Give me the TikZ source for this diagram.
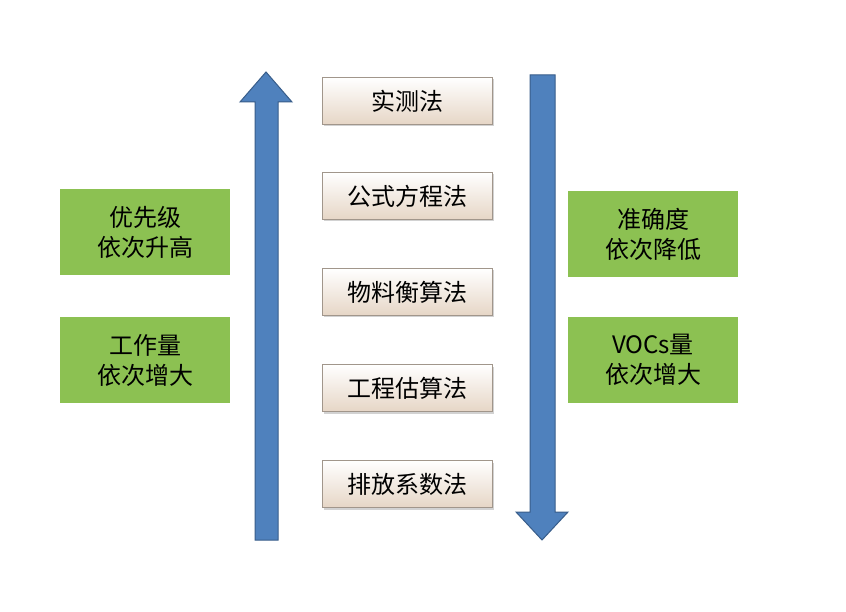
\documentclass[tikz,border=0pt]{standalone}
\usepackage{fontspec}
\newfontfamily\cjk{Noto Sans CJK SC}
\usetikzlibrary{shadows}
\definecolor{arrblue}{HTML}{4F81BD}
\definecolor{arredge}{HTML}{385D8A}
\definecolor{grn}{HTML}{8CC152}
\definecolor{boxtop}{HTML}{FFFFFF}
\definecolor{boxbot}{HTML}{E6D6C6}
\tikzset{
  method/.style={draw=boxbot!70!black, line width=0.8pt, top color=boxtop, bottom color=boxbot, minimum width=170pt, minimum height=47pt, font=\cjk\fontsize{24}{28}\selectfont, drop shadow={shadow xshift=2pt, shadow yshift=-2pt, opacity=0.35}},
  note/.style={fill=grn, minimum width=170pt, minimum height=86pt, align=center, font=\cjk\fontsize{24}{30}\selectfont},
  bigarrow/.style={fill=arrblue, draw=arredge, line width=1pt}
}
\begin{document}
\begin{tikzpicture}[x=1pt,y=-1pt]
\useasboundingbox (0,0) rectangle (846,612);
\fill[white] (0,0) rectangle (846,612);
% up arrow
\draw[bigarrow] (255,540) -- (255,102) -- (240,102) -- (266,72) -- (292,102) -- (278,102) -- (278,540) -- cycle;
% down arrow
\draw[bigarrow] (530,75) -- (555,75) -- (555,512) -- (568,512) -- (542,540) -- (516,512) -- (530,512) -- cycle;
\node[method] (m1) at (407,101) {实测法};
\node[method] (m2) at (407,196) {公式方程法};
\node[method] (m3) at (407,292) {物料衡算法};
\node[method] (m4) at (407,388) {工程估算法};
\node[method] (m5) at (407,484) {排放系数法};
\node[note] (l1) at (145,232) {优先级\\依次升高};
\node[note] (l2) at (145,360) {工作量\\依次增大};
\node[note] (r1) at (653,234) {准确度\\依次降低};
\node[note] (r2) at (653,360) {VOCs量\\依次增大};
\end{tikzpicture}
\end{document}
